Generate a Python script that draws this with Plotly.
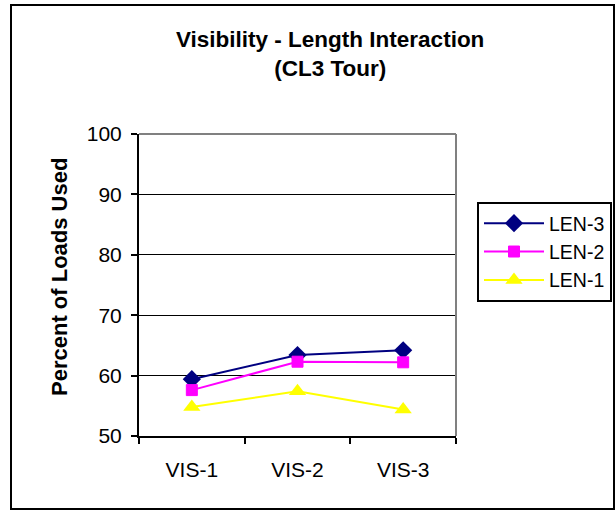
import plotly.graph_objects as go

# Visibility level categories and percent of loads used per length group
categories = ["VIS-1", "VIS-2", "VIS-3"]
len3 = [59.4, 63.4, 64.2]
len2 = [57.6, 62.3, 62.2]
len1 = [54.8, 57.4, 54.4]
y_ticks = [50, 60, 70, 80, 90, 100]

FONT = "Liberation Sans, Arial, sans-serif"

fig = go.Figure()
fig.add_trace(go.Scatter(
    x=categories, y=len3, name="LEN-3", mode="lines+markers", legendgroup="g3",
    line=dict(color="#000080", width=2),
    marker=dict(symbol="diamond", size=14, color="#000080"),
))
fig.add_trace(go.Scatter(
    x=categories, y=len2, name="LEN-2", mode="lines+markers", legendgroup="g2",
    line=dict(color="#FF00FF", width=2),
    marker=dict(symbol="square", size=11, color="#FF00FF",
                line=dict(color="#FF00FF", width=1)),
))
fig.add_trace(go.Scatter(
    x=categories, y=len1, name="LEN-1", mode="lines+markers", legendgroup="g1",
    line=dict(color="#FFFF00", width=2),
    marker=dict(symbol="triangle-up", size=15, color="#FFFF00"),
))

# plot area in pixels: x 139..456, y 134..436
W, H = 616, 510
L, R, T, B = 139, 456, 134, 436
pw, ph = R - L, B - T

def px_x(v):
    return (v - L) / pw

def px_y(v):
    return (B - v) / ph

shapes = [
    # outer chart frame
    dict(type="rect", xref="paper", yref="paper",
         x0=px_x(11), x1=px_x(614), y0=px_y(509), y1=px_y(5),
         line=dict(color="black", width=2), layer="below"),
    # grey top and right edges of the plot area
    dict(type="line", xref="paper", yref="paper", x0=0, x1=1, y0=1, y1=1,
         line=dict(color="#808080", width=2), layer="above"),
    dict(type="line", xref="paper", yref="paper", x0=1, x1=1, y0=0, y1=1,
         line=dict(color="#808080", width=2), layer="above"),
]

fig.update_layout(
    width=W, height=H,
    margin=dict(l=L, r=W - R, t=T, b=H - B, pad=0, autoexpand=False),
    paper_bgcolor="white", plot_bgcolor="white",
    font=dict(family=FONT, size=21, color="black"),
    showlegend=True,
    legend=dict(
        x=px_x(477), y=px_y(202), xanchor="left", yanchor="top",
        bordercolor="black", borderwidth=2, bgcolor="white",
        font=dict(family=FONT, size=19.5, color="black"),
        itemwidth=60, tracegroupgap=5, traceorder="normal",
    ),
    shapes=shapes,
    annotations=[
        dict(text="<b>Visibility - Length Interaction</b><br><b>(CL3 Tour)</b>",
             xref="paper", yref="paper", x=px_x(330), y=px_y(54),
             xanchor="center", yanchor="middle", showarrow=False,
             font=dict(family=FONT, size=22.5, color="black")),
        dict(text="<b>Percent of Loads Used</b>", textangle=-90,
             xref="paper", yref="paper", x=px_x(59), y=px_y(277),
             xanchor="center", yanchor="middle", showarrow=False,
             font=dict(family=FONT, size=22, color="black")),
    ],
)

fig.update_xaxes(
    type="category", range=[-0.5, 2.5], tickson="boundaries",
    ticks="outside", ticklen=6, tickcolor="black", tickwidth=2,
    showline=True, linecolor="black", linewidth=2, showgrid=False,
    ticklabelstandoff=14,
    tickfont=dict(family=FONT, size=21, color="black"),
)
fig.update_yaxes(
    range=[50, 100], tickvals=y_ticks, ticks="outside", ticklen=6,
    tickcolor="black", tickwidth=2, showline=True, linecolor="black",
    linewidth=2, showgrid=True, gridcolor="black", gridwidth=1,
    zeroline=False, ticklabelstandoff=5,
    tickfont=dict(family=FONT, size=21, color="black"),
)

fig.write_html("out.html")
